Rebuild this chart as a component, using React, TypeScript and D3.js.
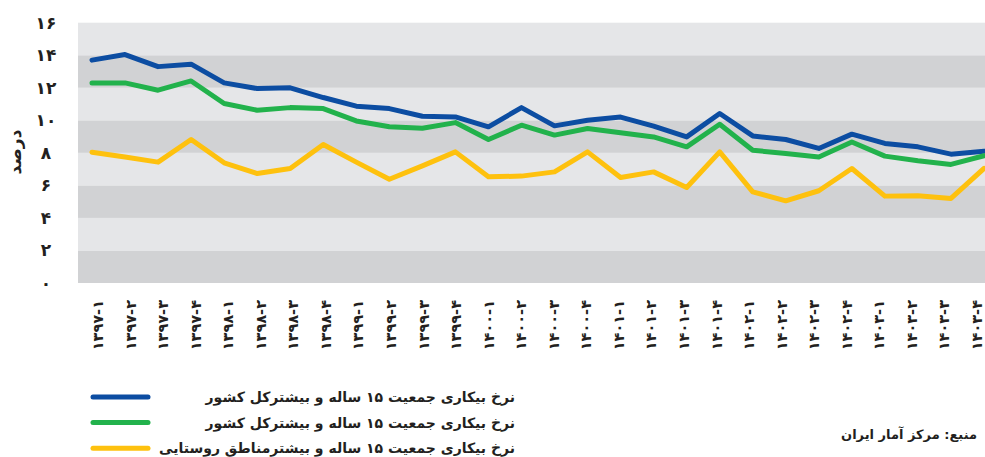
import React from "react"
import * as d3 from "d3"

// quarters 1397-1 .. 1403-4
const years = ["۱۳۹۷", "۱۳۹۸", "۱۳۹۹", "۱۴۰۰", "۱۴۰۱", "۱۴۰۲", "۱۴۰۳"]
const quarters = ["۱", "۲", "۳", "۴"]
const categories = years.flatMap((y) => quarters.map((q) => `${y}-${q}`))

const totalRate = [
    13.7, 14.04, 13.3, 13.45, 12.3, 11.95, 12.0, 11.4, 10.87, 10.72, 10.25, 10.21,
    9.6, 10.78, 9.66, 10.0, 10.2, 9.64, 8.98, 10.42, 9.04, 8.82, 8.27, 9.15,
    8.58, 8.37, 7.92, 8.1,
]
const totalRate2 = [
    12.3, 12.3, 11.85, 12.42, 11.03, 10.62, 10.78, 10.72, 9.96, 9.6, 9.51, 9.86,
    8.82, 9.7, 9.09, 9.5, 9.23, 8.98, 8.37, 9.76, 8.16, 7.96, 7.75, 8.67,
    7.8, 7.51, 7.29, 7.82,
]
const ruralRate = [
    8.04, 7.75, 7.43, 8.82, 7.39, 6.73, 7.04, 8.51, 7.43, 6.38, 7.2, 8.06,
    6.53, 6.57, 6.83, 8.06, 6.49, 6.83, 5.87, 8.06, 5.6, 5.05, 5.67, 7.04,
    5.34, 5.36, 5.2, 7.04,
]

const seriesNames = [
    "نرخ بیکاری جمعیت ۱۵ ساله و بیشترکل کشور",
    "نرخ بیکاری جمعیت ۱۵ ساله و بیشترکل کشور",
    "نرخ بیکاری جمعیت ۱۵ ساله و بیشترمناطق روستایی",
]
const yTicks = [0, 2, 4, 6, 8, 10, 12, 14, 16]

const toFa = (n: number) =>
    String(n).replace(/\d/g, (d) => "۰۱۲۳۴۵۶۷۸۹"[+d])

const W = 985
const H = 457
const FONT = "'DejaVu Sans', sans-serif"

export default function App() {
    const plot = { left: 78, right: 985, top: 22.7, bottom: 283 }
    const x = d3.scalePoint<string>().domain(categories).range([92, 984])
    // tick labels sit on a slightly narrower spread than the points
    const xl = d3.scalePoint<string>().domain(categories).range([98, 977])
    const y = d3.scaleLinear().domain([0, 16]).range([plot.bottom, plot.top])

    const series = [
        { values: totalRate, color: "#0c4da2" },
        { values: totalRate2, color: "#22b24c" },
        { values: ruralRate, color: "#fec10e" },
    ]

    const line = d3
        .line<number>()
        .x((_, i) => x(categories[i])!)
        .y((d) => y(d))

    const bands = d3.range(0, 16, 2)

    return (
        <svg
            width={W}
            height={H}
            style={{ position: "absolute", left: 0, top: 0, background: "#fff" }}
            fontFamily={FONT}
        >
            {/* background bands */}
            {bands.map((b) => (
                <rect
                    key={b}
                    x={plot.left}
                    width={plot.right - plot.left}
                    y={y(b + 2)}
                    height={y(b) - y(b + 2)}
                    fill={(b / 2) % 2 === 0 ? "#d1d2d4" : "#e5e6e8"}
                />
            ))}

            {/* y labels */}
            {yTicks.map((t) => (
                <text
                    key={t}
                    x={46}
                    y={y(t)}
                    dy="0.35em"
                    textAnchor="middle"
                    fontSize={17}
                    fontWeight="bold"
                    fill="#231f20"
                >
                    {toFa(t)}
                </text>
            ))}
            <text
                transform={`translate(15,152) rotate(-90)`}
                textAnchor="middle"
                dy="0.35em"
                fontSize={17}
                fontWeight="bold"
                fill="#231f20"
            >
                درصد
            </text>

            {/* x labels */}
            {categories.map((c) => (
                <text
                    key={c}
                    transform={`translate(${xl(c)! + 5},300) rotate(-90)`}
                    textAnchor="end"
                    fontSize={14.5}
                    fontWeight="bold"
                    fill="#231f20"
                    direction="ltr"
                >
                    {c}
                </text>
            ))}

            {/* lines */}
            {series.map((s, i) => (
                <path
                    key={i}
                    d={line(s.values)!}
                    fill="none"
                    stroke={s.color}
                    strokeWidth={5}
                    strokeLinejoin="round"
                    strokeLinecap="round"
                />
            ))}

            {/* legend */}
            {series.map((s, i) => (
                <g key={i} transform={`translate(0,${397 + i * 25.6})`}>
                    <line
                        x1={93}
                        x2={148}
                        stroke={s.color}
                        strokeWidth={5}
                        strokeLinecap="round"
                    />
                    <text
                        x={515}
                        dy="0.35em"
                        textAnchor="start"
                        direction="rtl"
                        fontSize={14}
                        fontWeight="bold"
                        fill="#231f20"
                    >
                        {seriesNames[i]}
                    </text>
                </g>
            ))}

            <text
                x={977}
                y={439}
                textAnchor="start"
                direction="rtl"
                fontSize={13}
                fontWeight="bold"
                fill="#231f20"
            >
                منبع: مرکز آمار ایران
            </text>
        </svg>
    )
}
